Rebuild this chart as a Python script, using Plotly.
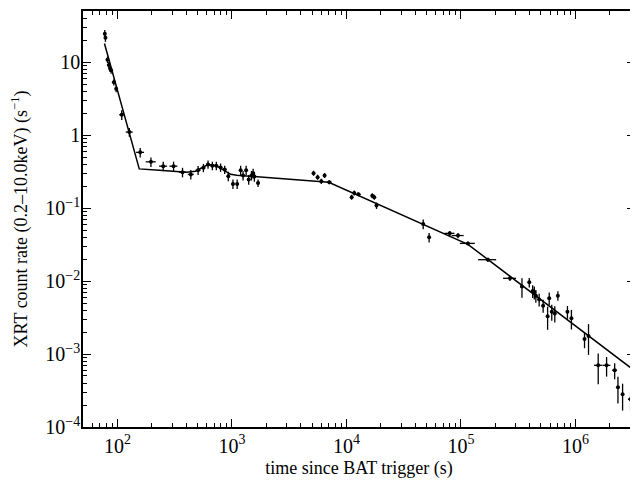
import plotly.graph_objects as go
import numpy as np

# Observed light curve: time (s), count rate (s^-1), fractional errors
t = [77.5, 78.5, 81.8, 84, 86.4, 88, 93, 97.4, 109, 127,
     158, 196, 251, 309, 370, 437, 506, 563, 618, 674,
     730, 795, 864, 929, 1020, 1110, 1190, 1250, 1330, 1400,
     1480, 1530, 1570, 1690, 5160, 5600, 6030, 6440, 7080, 11100,
     11700, 12700, 16800, 17500, 18300, 46800, 52700, 79800, 94200, 115000,
     172000, 268000, 341000, 395000, 423000, 437000, 451000, 482000, 522000, 571000,
     590000, 621000, 660000, 702000, 851000, 922000, 1200000, 1300000, 1580000, 1870000,
     2200000, 2350000, 2580000, 3030000]
rate = [24.5, 21.5, 10.8, 9.1, 8.1, 7.7, 5.3, 4.3, 1.9, 1.1,
        0.58, 0.43, 0.375, 0.375, 0.31, 0.289, 0.33, 0.356, 0.396, 0.38,
        0.38, 0.36, 0.337, 0.273, 0.214, 0.214, 0.33, 0.28, 0.33, 0.246,
        0.28, 0.30, 0.27, 0.22, 0.30, 0.265, 0.233, 0.28, 0.226, 0.141,
        0.161, 0.154, 0.148, 0.141, 0.108, 0.0605, 0.0397, 0.045, 0.042, 0.0328,
        0.0196, 0.0109, 0.0084, 0.0096, 0.0073, 0.0070, 0.0063, 0.0056, 0.0046, 0.0033,
        0.0058, 0.0038, 0.0036, 0.0063, 0.0038, 0.0031, 0.0016, 0.00177, 0.0007, 0.0007,
        0.0006, 0.00035, 0.00028, 0.00024]
xerr_frac = [0.01, 0.01, 0.01, 0.01, 0.01, 0.01, 0.015, 0.015, 0.05, 0.07,
             0.08, 0.10, 0.08, 0.08, 0.07, 0.06, 0.05, 0.04, 0.04, 0.04,
             0.04, 0.04, 0.04, 0.03, 0.03, 0.03, 0.03, 0.03, 0.03, 0.03,
             0.03, 0.03, 0.03, 0.03, 0.02, 0.02, 0.02, 0.02, 0.05, 0.02,
             0.02, 0.05, 0.02, 0.02, 0.02, 0.02, 0.02, 0.10, 0.12, 0.15,
             0.18, 0.13, 0.03, 0.03, 0.03, 0.03, 0.03, 0.03, 0.03, 0.02,
             0.02, 0.02, 0.02, 0.02, 0.02, 0.02, 0.02, 0.02, 0.08, 0.08,
             0.05, 0.03, 0.03, 0.05]
yerr_frac = [0.12, 0.12, 0.10, 0.10, 0.10, 0.10, 0.10, 0.10, 0.15, 0.14,
             0.15, 0.15, 0.15, 0.15, 0.15, 0.15, 0.14, 0.13, 0.13, 0.13,
             0.13, 0.13, 0.13, 0.15, 0.15, 0.15, 0.15, 0.15, 0.15, 0.15,
             0.15, 0.15, 0.15, 0.12, 0.08, 0.08, 0.08, 0.08, 0.06, 0.08,
             0.08, 0.06, 0.08, 0.08, 0.10, 0.15, 0.15, 0.08, 0.08, 0.06,
             0.06, 0.08, 0.30, 0.15, 0.20, 0.20, 0.20, 0.20, 0.20, 0.35,
             0.20, 0.25, 0.25, 0.15, 0.20, 0.30, 0.25, 0.45, 0.45, 0.30,
             0.25, 0.40, 0.40, 0.30]

# Best-fit model curve (broken power law plus flare)
model_t = [77, 155, 232, 400, 480, 540, 600, 660, 730, 800, 880, 973, 1100,
           7000, 115000, 3030000]
model_rate = [18, 0.344, 0.329, 0.31, 0.32, 0.355, 0.385, 0.392, 0.38, 0.35,
              0.315, 0.29, 0.282, 0.226, 0.0318, 0.00065]

x_tickvals = [1e2, 1e3, 1e4, 1e5, 1e6]
x_ticktext = ["10<sup>2</sup>", "10<sup>3</sup>", "10<sup>4</sup>",
              "10<sup>5</sup>", "10<sup>6</sup>"]
y_tickvals = [1e-4, 1e-3, 1e-2, 1e-1, 1, 10]
y_ticktext = ["10<sup>\u22124</sup>", "10<sup>\u22123</sup>", "10<sup>\u22122</sup>",
              "10<sup>\u22121</sup>", "1", "10"]

t_a = np.array(t)
r_a = np.array(rate)
xe = t_a * np.array(xerr_frac)
ye = r_a * np.array(yerr_frac)

x_minor = [m * 10 ** d for d in range(1, 7) for m in range(2, 10)]
y_minor = [m * 10 ** d for d in range(-4, 2) for m in range(2, 10)]

fig = go.Figure()
fig.add_trace(go.Scatter(
    x=model_t, y=model_rate, mode="lines",
    line=dict(color="black", width=1.5), showlegend=False, hoverinfo="skip"))
fig.add_trace(go.Scatter(
    x=t, y=rate, mode="markers",
    marker=dict(color="black", size=4),
    error_x=dict(type="data", array=xe, symmetric=True, color="black", thickness=1.3, width=0),
    error_y=dict(type="data", array=ye, symmetric=True, color="black", thickness=1.3, width=0),
    showlegend=False))

font_family = "Liberation Serif, Times New Roman, serif"
# page body has an 8px margin, so the figure is shrunk to fit the 638x483 window
fig.update_layout(
    width=630, height=475,
    margin=dict(l=75, r=1, t=2, b=56),
    plot_bgcolor="white", paper_bgcolor="white",
    font=dict(family=font_family, color="black", size=18),
    xaxis=dict(
        type="log", range=[np.log10(50), 6.52],
        tickmode="array", tickvals=x_tickvals, ticktext=x_ticktext,
        ticks="inside", ticklen=8, tickwidth=1.2, tickcolor="black",
        minor=dict(tickmode="array", tickvals=x_minor, ticks="inside",
                   ticklen=4, tickwidth=1, tickcolor="black", showgrid=False),
        showline=True, linecolor="black", linewidth=1.5, mirror="ticks",
        showgrid=False, zeroline=False,
        tickfont=dict(size=20),
        title=dict(text="time since BAT trigger (s)", font=dict(size=18), standoff=6),
    ),
    yaxis=dict(
        type="log", range=[-4, 1.70],
        tickmode="array", tickvals=y_tickvals, ticktext=y_ticktext,
        ticks="inside", ticklen=8, tickwidth=1.2, tickcolor="black",
        ticklabelstandoff=-3,
        minor=dict(tickmode="array", tickvals=y_minor, ticks="inside",
                   ticklen=4, tickwidth=1, tickcolor="black", showgrid=False),
        showline=True, linecolor="black", linewidth=1.5, mirror="ticks",
        showgrid=False, zeroline=False,
        tickfont=dict(size=20),
        title=dict(text="XRT count rate (0.2\u201310.0keV) (s<sup>\u22121</sup>)",
                   font=dict(size=18), standoff=22),
    ),
)

fig.write_html("out.html")
